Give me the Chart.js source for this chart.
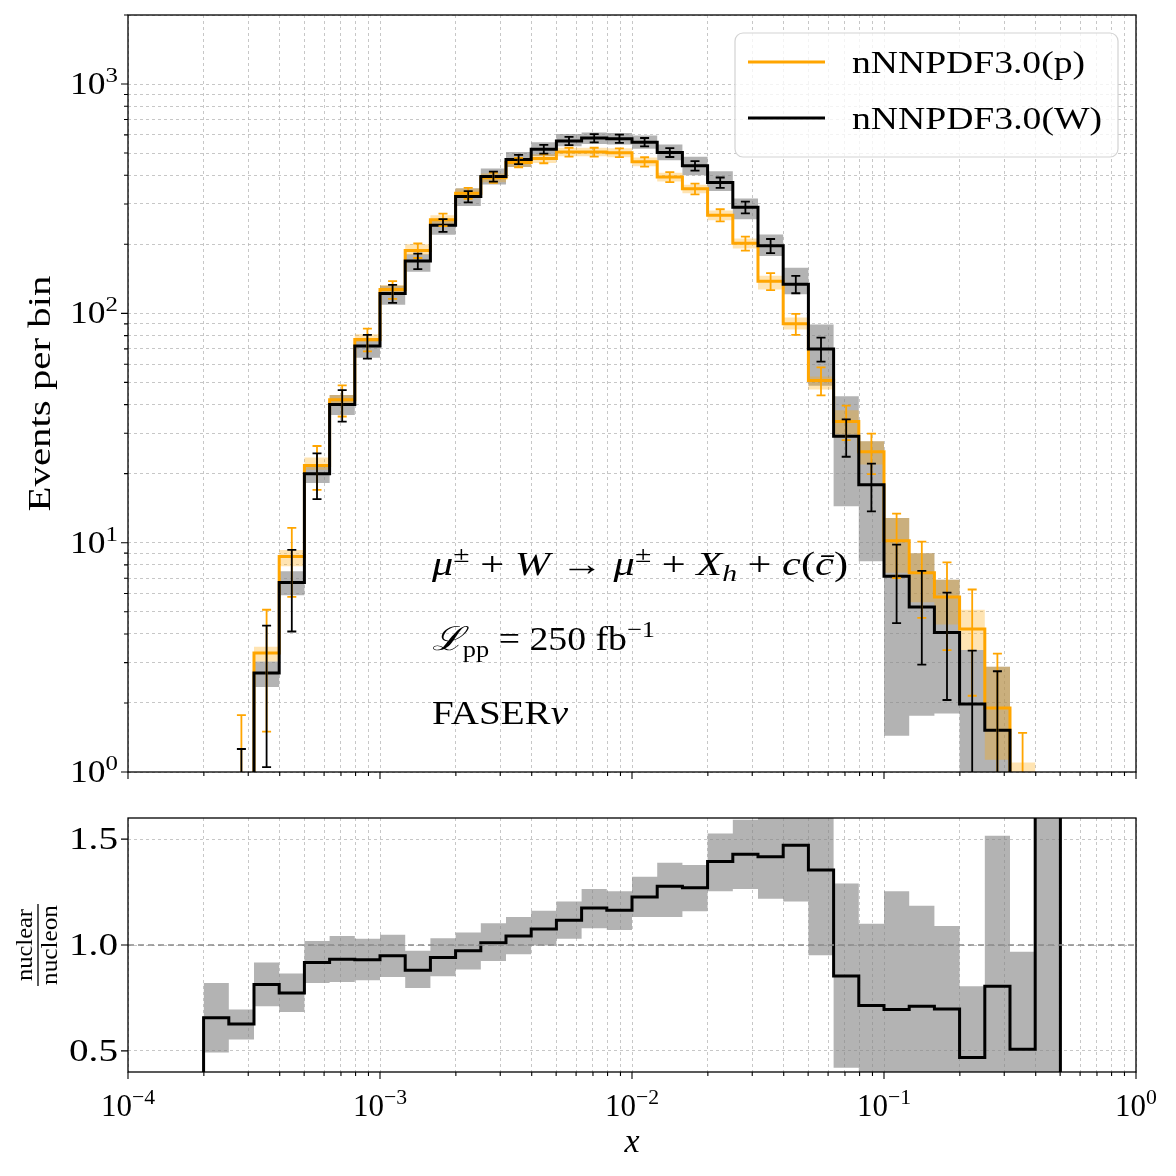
<!DOCTYPE html>
<html><head><meta charset="utf-8">
<script src="https://cdn.jsdelivr.net/npm/chart.js@4.4.1/dist/chart.umd.min.js"></script>
<style>
html,body{margin:0;padding:0;background:#fff;}
#wrap{position:relative;width:1176px;height:1176px;background:#fff;}
canvas{position:absolute;left:0;top:0;}
</style></head><body>
<div id="wrap"><canvas id="cTop" width="1176" height="1176"></canvas><canvas id="cBot" width="1176" height="1176"></canvas></div>
<script>
// ---------------- DATA ----------------
const binEdges = [1.995e-4, 2.512e-4, 3.162e-4, 3.981e-4, 5.012e-4, 6.310e-4, 7.943e-4, 1.000e-3, 1.259e-3, 1.585e-3, 1.995e-3, 2.512e-3, 3.162e-3, 3.981e-3, 5.012e-3, 6.310e-3, 7.943e-3, 1.000e-2, 1.259e-2, 1.585e-2, 1.995e-2, 2.512e-2, 3.162e-2, 3.981e-2, 5.012e-2, 6.310e-2, 7.943e-2, 0.1000, 0.1259, 0.1585, 0.1995, 0.2512, 0.3162, 0.3981, 0.5012];

const protonEvents = [0.30, 0.78, 3.3, 8.7, 21.7, 42, 77, 127, 188, 256, 334, 390, 455, 473, 505, 505, 502, 458, 393, 349, 268, 202, 138, 90, 51, 33.8, 24.9, 10.2, 7.4, 5.8, 4.2, 1.9, 0.66, 0.08];
const protonStatErr = [0.55, 0.99, 1.8, 2.9, 4.7, 6.5, 8.8, 11.3, 13.7, 16.0, 18.3, 19.7, 21.3, 21.7, 22.5, 22.5, 22.4, 21.4, 19.8, 18.7, 16.4, 14.2, 11.7, 9.5, 7.1, 5.8, 5.0, 3.2, 2.7, 2.4, 2.05, 1.38, 0.82, 0.28];
const protonBandLo = [0.27, 0.70, 3.03, 7.9, 20.8, 40, 75, 121, 180, 246, 320, 373, 436, 453, 484, 484, 480, 438, 376, 334, 255, 192, 127, 85, 46.6, 29.6, 21.9, 7.4, 5.5, 4.4, 3.4, 1.13, 0.5, 0.03];
const protonBandHi = [0.33, 0.86, 3.52, 9.3, 23.5, 44, 81, 133, 200, 268, 350, 407, 475, 494, 528, 528, 525, 478, 410, 364, 281, 212, 146, 96, 53, 37.8, 27.7, 12.8, 9.0, 6.9, 5.1, 2.88, 1.1, 0.08];

const tungstenEvents = [0.20, 0.46, 2.7, 6.7, 20.0, 40, 72, 122, 169, 242, 323, 395, 469, 520, 565, 581, 578, 558, 503, 440, 372, 290, 197, 134, 70, 29.1, 17.9, 7.13, 5.24, 4.06, 1.98, 1.52, 0.34, 0.25];
const tungstenStatErr = [0.45, 0.80, 1.65, 2.6, 4.5, 6.3, 8.5, 11.0, 13.0, 15.6, 18.0, 19.9, 21.7, 22.8, 23.8, 24.1, 24.0, 23.6, 22.4, 21.0, 19.3, 17.0, 14.0, 11.6, 8.4, 5.4, 4.2, 2.67, 2.3, 2.0, 1.4, 1.23, 0.58, 0.5];
const tungstenBandLo = [0.12, 0.38, 2.35, 5.9, 18.2, 36, 64, 109, 152, 220, 294, 365, 435, 485, 535, 548, 545, 522, 465, 400, 342, 257, 178, 121, 48.3, 14.4, 8.3, 1.44, 1.76, 1.80, 0.5, 0.4, 0.1, 0.1];
const tungstenBandHi = [0.28, 0.55, 3.03, 7.5, 21.8, 44, 77, 132, 181, 253, 351, 428, 505, 557, 605, 615, 612, 597, 545, 482, 417, 317, 221, 158, 89.5, 43.5, 27.7, 12.8, 9.0, 6.9, 3.4, 2.88, 0.6, 0.6];

const ratioValues = [0.656, 0.627, 0.813, 0.773, 0.917, 0.933, 0.930, 0.949, 0.881, 0.941, 0.973, 1.011, 1.043, 1.076, 1.117, 1.175, 1.164, 1.227, 1.278, 1.270, 1.394, 1.429, 1.417, 1.471, 1.354, 0.854, 0.714, 0.695, 0.711, 0.698, 0.468, 0.805, 0.508, 3.0];
const ratioBandLo = [0.492, 0.554, 0.711, 0.683, 0.821, 0.825, 0.833, 0.849, 0.797, 0.852, 0.884, 0.924, 0.956, 0.998, 1.029, 1.079, 1.071, 1.132, 1.132, 1.159, 1.254, 1.265, 1.218, 1.206, 0.952, 0.42, 0.2, 0.2, 0.2, 0.2, 0.2, 0.2, 0.2, 0.2];
const ratioBandHi = [0.821, 0.695, 0.917, 0.865, 1.019, 1.043, 1.029, 1.048, 0.973, 1.032, 1.059, 1.103, 1.132, 1.162, 1.206, 1.265, 1.254, 1.322, 1.389, 1.378, 1.527, 1.592, 1.75, 1.75, 1.75, 1.290, 1.100, 1.254, 1.186, 1.090, 0.805, 1.516, 0.968, 5.0];

const seriesLabels = ['nNNPDF3.0(p)', 'nNNPDF3.0(W)'];
const xMajorTicks = [1e-4, 1e-3, 1e-2, 1e-1, 1];
const xMajorExp = ['\u22124', '\u22123', '\u22122', '\u22121', '0'];
const yMajorTicks = [1, 10, 100, 1000];
const yMajorExp = ['0', '1', '2', '3'];
const ratioTicks = [0.5, 1.0, 1.5];
const ratioTickLabels = ['0.5', '1.0', '1.5'];

// ---------------- STYLE ----------------
const ORANGE = '#ffa500';
const SERIF = '"Liberation Serif", "DejaVu Serif", serif';
const GRID = '#b9b9b9';

function minorTicks(lo, hi) {
  const out = [];
  for (let d = lo; d < hi; d *= 10) for (let m = 2; m <= 9; m++) out.push(d * m);
  return out;
}
const xMinor = minorTicks(1e-4, 1);
const yMinor = minorTicks(1, 1000).concat([2000]);

function stepPoints(vals, padStart, padEnd) {
  const pts = [];
  if (padStart !== undefined) pts.push({x: binEdges[0], y: padStart});
  vals.forEach((v, i) => { pts.push({x: binEdges[i], y: v}); pts.push({x: binEdges[i + 1], y: v}); });
  if (padEnd !== undefined) pts.push({x: binEdges[binEdges.length - 1], y: padEnd});
  return pts;
}
const NOLINE = 'rgba(0,0,0,0)';
function bandPair(lo, hi, color, orderBase) {
  return [
    {data: stepPoints(hi), borderColor: NOLINE, borderWidth: 0, backgroundColor: color, fill: '+1', pointRadius: 0, order: orderBase},
    {data: stepPoints(lo), borderColor: NOLINE, borderWidth: 0, backgroundColor: NOLINE, fill: false, pointRadius: 0, order: orderBase + 1}
  ];
}

// ---------- rich text helper ----------
function fontOf(r, size) {
  const s = size * (r.s || 1);
  return (r.i ? 'italic ' : '') + s.toFixed(1) + 'px ' + (r.fam || SERIF);
}
function drawRuns(ctx, runs, x, y, size, align, targetW) {
  let w = 0;
  runs.forEach(r => { ctx.font = fontOf(r, size); r.w = ctx.measureText(r.t).width + (r.gap || 0); w += r.w; });
  const sx = targetW ? targetW / w : 1;
  const tw = w * sx;
  const x0 = align === 'center' ? x - tw / 2 : (align === 'right' ? x - tw : x);
  ctx.save();
  ctx.translate(x0, y);
  ctx.scale(sx, 1);
  ctx.textBaseline = 'alphabetic';
  ctx.textAlign = 'left';
  ctx.fillStyle = '#000';
  let cx = 0;
  runs.forEach(r => { ctx.font = fontOf(r, size); ctx.fillText(r.t, cx, (r.dy || 0)); cx += r.w; });
  ctx.restore();
}

// ---------- axis decoration ----------
function drawFrameAndTicks(chart, cfg) {
  const ctx = chart.ctx, a = chart.chartArea, xs = chart.scales.x, ys = chart.scales.y;
  ctx.save();
  ctx.strokeStyle = '#000';
  ctx.lineWidth = 1.3;
  ctx.strokeRect(a.left, a.top, a.right - a.left, a.bottom - a.top);
  ctx.lineWidth = 1.1;
  ctx.beginPath();
  xMajorTicks.forEach(v => { const p = xs.getPixelForValue(v); ctx.moveTo(p, a.bottom); ctx.lineTo(p, a.bottom + 7); });
  xMinor.forEach(v => { const p = xs.getPixelForValue(v); ctx.moveTo(p, a.bottom); ctx.lineTo(p, a.bottom + 4); });
  (cfg.yMajor || []).forEach(v => { const p = ys.getPixelForValue(v); if (p >= a.top - 0.5 && p <= a.bottom + 0.5) { ctx.moveTo(a.left, p); ctx.lineTo(a.left - 7, p); } });
  (cfg.yMinor || []).forEach(v => { const p = ys.getPixelForValue(v); if (p >= a.top - 0.5 && p <= a.bottom + 0.5) { ctx.moveTo(a.left, p); ctx.lineTo(a.left - 4, p); } });
  ctx.stroke();
  ctx.restore();
}

function drawErrorBars(chart, vals, errs, color) {
  const ctx = chart.ctx, a = chart.chartArea, xs = chart.scales.x, ys = chart.scales.y;
  ctx.save();
  ctx.beginPath(); ctx.rect(a.left, a.top, a.right - a.left, a.bottom - a.top); ctx.clip();
  ctx.strokeStyle = color; ctx.lineWidth = 1.8;
  vals.forEach((v, i) => {
    const xc = Math.sqrt(binEdges[i] * binEdges[i + 1]);
    const px = xs.getPixelForValue(xc);
    const lo = Math.max(v - errs[i], 1e-3);
    const py1 = ys.getPixelForValue(v + errs[i]);
    const py0 = ys.getPixelForValue(lo);
    ctx.beginPath();
    ctx.moveTo(px, py0); ctx.lineTo(px, py1);
    ctx.moveTo(px - 4.5, py1); ctx.lineTo(px + 4.5, py1);
    if (v - errs[i] > 0) { ctx.moveTo(px - 4.5, py0); ctx.lineTo(px + 4.5, py0); }
    ctx.stroke();
  });
  ctx.restore();
}

Chart.defaults.animation = false;
Chart.defaults.font.family = SERIF;

const commonX = {
  type: 'logarithmic', min: 1e-4, max: 1,
  afterBuildTicks: s => { s.ticks = xMajorTicks.concat(xMinor).map(v => ({value: v})); },
  afterFit: s => { s.height = 0; },
  ticks: {display: false},
  grid: {color: GRID, lineWidth: 0.8, drawTicks: false},
  border: {display: false, dash: [3, 3]}
};

// ---------------- TOP CHART ----------------
const topPlugin = {
  id: 'topDeco',
  afterDatasetsDraw(chart) {
    drawErrorBars(chart, protonEvents, protonStatErr, ORANGE);
    drawErrorBars(chart, tungstenEvents, tungstenStatErr, '#000');
  },
  afterDraw(chart) {
    const ctx = chart.ctx, a = chart.chartArea, ys = chart.scales.y;
    drawFrameAndTicks(chart, {yMajor: yMajorTicks, yMinor: yMinor});
    yMajorTicks.forEach((v, i) => {
      const p = ys.getPixelForValue(v);
      drawRuns(ctx, [{t: '10'}, {t: yMajorExp[i], s: 0.7, dy: -12}], a.left - 10, p + 10, 31, 'right', 48);
    });
    ctx.save();
    ctx.translate(50, (a.top + a.bottom) / 2);
    ctx.rotate(-Math.PI / 2);
    drawRuns(ctx, [{t: 'Events per bin'}], 0, 0, 31, 'center', 236);
    ctx.restore();
    // legend
    ctx.save();
    const bx = 735, by = 33, bw = 383, bh = 124, r = 8;
    ctx.beginPath();
    ctx.moveTo(bx + r, by); ctx.arcTo(bx + bw, by, bx + bw, by + bh, r); ctx.arcTo(bx + bw, by + bh, bx, by + bh, r);
    ctx.arcTo(bx, by + bh, bx, by, r); ctx.arcTo(bx, by, bx + bw, by, r); ctx.closePath();
    ctx.fillStyle = 'rgba(255,255,255,0.8)'; ctx.fill();
    ctx.strokeStyle = '#d3d3d3'; ctx.lineWidth = 1.2; ctx.stroke();
    ctx.lineWidth = 3;
    ctx.strokeStyle = ORANGE; ctx.beginPath(); ctx.moveTo(748, 62); ctx.lineTo(825, 62); ctx.stroke();
    ctx.strokeStyle = '#000'; ctx.beginPath(); ctx.moveTo(748, 118); ctx.lineTo(825, 118); ctx.stroke();
    ctx.restore();
    drawRuns(ctx, [{t: seriesLabels[0]}], 852, 73, 31, 'left', 233);
    drawRuns(ctx, [{t: seriesLabels[1]}], 852, 129, 31, 'left', 250);
    // annotations
    drawRuns(ctx, [
      {t: '\u03bc', i: 1}, {t: '\u00b1', s: 0.7, dy: -13}, {t: ' + '}, {t: 'W', i: 1}, {t: ' \u2192 '},
      {t: '\u03bc', i: 1}, {t: '\u00b1', s: 0.7, dy: -13}, {t: ' + '}, {t: 'X', i: 1}, {t: 'h', i: 1, s: 0.7, dy: 6},
      {t: ' + '}, {t: 'c', i: 1}, {t: '('}, {t: 'c\u0304', i: 1}, {t: ')'}
    ], 432, 575, 33, 'left', 416);
    drawRuns(ctx, [
      {t: '\u2112', i: 1, fam: '"DejaVu Serif", serif'}, {t: 'pp', s: 0.7, dy: 7}, {t: ' = 250 '}, {t: 'fb'}, {t: '\u22121', s: 0.7, dy: -13}
    ], 432, 650, 33, 'left', 223);
    drawRuns(ctx, [{t: 'FASER'}, {t: '\u03bd', i: 1}], 432, 724, 33, 'left', 136);
  }
};

new Chart(document.getElementById('cTop'), {
  type: 'line',
  data: {
    datasets: [
      {label: seriesLabels[1], data: stepPoints(tungstenEvents), borderColor: '#000', borderWidth: 3, pointRadius: 0, fill: false, order: 0},
      {label: seriesLabels[0], data: stepPoints(protonEvents), borderColor: ORANGE, borderWidth: 3, pointRadius: 0, fill: false, order: 1},
      ...bandPair(protonBandLo, protonBandHi, 'rgba(255,165,0,0.3)', 2),
      ...bandPair(tungstenBandLo, tungstenBandHi, 'rgba(128,128,128,0.6)', 4)
    ]
  },
  options: {
    responsive: false,
    animation: false,
    layout: {padding: {left: 128, right: 40, top: 15, bottom: 404}},
    plugins: {legend: {display: false}, tooltip: {enabled: false}},
    elements: {line: {tension: 0, borderJoinStyle: 'miter', borderCapStyle: 'butt'}},
    scales: {
      x: commonX,
      y: {
        type: 'logarithmic', min: 1, max: 2000,
        afterBuildTicks: s => { s.ticks = yMajorTicks.concat(yMinor).map(v => ({value: v})); },
        afterFit: s => { s.width = 0; },
        ticks: {display: false},
        grid: {color: GRID, lineWidth: 0.8, drawTicks: false},
        border: {display: false, dash: [3, 3]}
      }
    }
  },
  plugins: [topPlugin]
});

// ---------------- BOTTOM CHART ----------------
const botPlugin = {
  id: 'botDeco',
  afterDatasetsDraw(chart) {
    const ctx = chart.ctx, a = chart.chartArea, ys = chart.scales.y;
    const p = ys.getPixelForValue(1.0);
    ctx.save();
    ctx.strokeStyle = '#8a8a8a'; ctx.lineWidth = 1.7; ctx.setLineDash([6, 4]);
    ctx.beginPath(); ctx.moveTo(a.left, p); ctx.lineTo(a.right, p); ctx.stroke();
    ctx.restore();
  },
  afterDraw(chart) {
    const ctx = chart.ctx, a = chart.chartArea, xs = chart.scales.x, ys = chart.scales.y;
    drawFrameAndTicks(chart, {yMajor: ratioTicks, yMinor: []});
    ratioTicks.forEach((v, i) => {
      drawRuns(ctx, [{t: ratioTickLabels[i]}], a.left - 10, ys.getPixelForValue(v) + 10, 31, 'right', 49);
    });
    xMajorTicks.forEach((v, i) => {
      drawRuns(ctx, [{t: '10'}, {t: xMajorExp[i], s: 0.7, dy: -12}], xs.getPixelForValue(v), 1116, 31, 'center');
    });
    drawRuns(ctx, [{t: 'x', i: 1}], (a.left + a.right) / 2, 1152, 34, 'center');
    ctx.save();
    ctx.translate(40, (a.top + a.bottom) / 2);
    ctx.rotate(-Math.PI / 2);
    drawRuns(ctx, [{t: 'nuclear'}], 0, -8, 24, 'center', 72);
    drawRuns(ctx, [{t: 'nucleon'}], 0, 17, 24, 'center', 80);
    ctx.strokeStyle = '#000'; ctx.lineWidth = 1.3;
    ctx.beginPath(); ctx.moveTo(-41, -2); ctx.lineTo(41, -2); ctx.stroke();
    ctx.restore();
  }
};

new Chart(document.getElementById('cBot'), {
  type: 'line',
  data: {
    datasets: [
      {label: 'ratio', data: stepPoints(ratioValues, 0, 0), borderColor: '#000', borderWidth: 3, pointRadius: 0, fill: false, order: 0},
      ...bandPair(ratioBandLo, ratioBandHi, 'rgba(128,128,128,0.6)', 1)
    ]
  },
  options: {
    responsive: false,
    animation: false,
    layout: {padding: {left: 128, right: 40, top: 818, bottom: 104}},
    plugins: {legend: {display: false}, tooltip: {enabled: false}},
    elements: {line: {tension: 0, borderJoinStyle: 'miter', borderCapStyle: 'butt'}},
    scales: {
      x: commonX,
      y: {
        type: 'linear', min: 0.4, max: 1.6,
        afterBuildTicks: s => { s.ticks = ratioTicks.map(v => ({value: v})); },
        afterFit: s => { s.width = 0; },
        ticks: {display: false},
        grid: {color: GRID, lineWidth: 0.8, drawTicks: false},
        border: {display: false, dash: [3, 3]}
      }
    }
  },
  plugins: [botPlugin]
});
</script>
</body></html>
